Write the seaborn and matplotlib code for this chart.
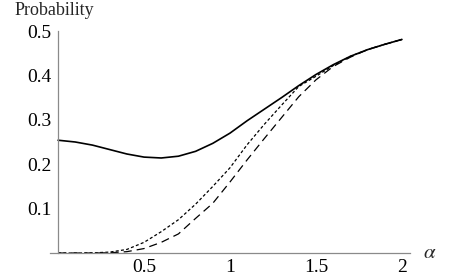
import matplotlib
matplotlib.use("Agg")
import matplotlib.pyplot as plt
import seaborn as sns
import numpy as np
import pandas as pd
from matplotlib.ticker import MultipleLocator

# values
alpha = [0.0, 0.1, 0.2, 0.3, 0.4, 0.5, 0.6, 0.7, 0.8, 0.9, 1.0,
         1.1, 1.2, 1.3, 1.4, 1.5, 1.6, 1.7, 1.8, 1.9, 2.0]
p_solid = [0.254, 0.250, 0.243, 0.233, 0.223, 0.216, 0.214, 0.218, 0.229, 0.247, 0.270,
           0.298, 0.324, 0.350, 0.377, 0.402, 0.424, 0.443, 0.458, 0.470, 0.481]
p_short = [0.0, 0.0, 0.0003, 0.002, 0.008, 0.024, 0.048, 0.075, 0.110, 0.150, 0.192,
           0.244, 0.290, 0.333, 0.375, 0.398, 0.422, 0.443, 0.458, 0.470, 0.481]
p_long = [0.0, 0.0, 0.0, 0.0005, 0.003, 0.010, 0.024, 0.043, 0.078, 0.112, 0.160,
          0.210, 0.258, 0.305, 0.352, 0.390, 0.420, 0.441, 0.458, 0.470, 0.481]

x_ticks = [0.5, 1, 1.5, 2]
x_labels = ["0.5", "1", "1.5", "2"]
y_ticks = [0.1, 0.2, 0.3, 0.4, 0.5]
y_labels = ["0.1", "0.2", "0.3", "0.4", "0.5"]

df = pd.DataFrame({"alpha": alpha, "solid": p_solid, "short": p_short, "long": p_long})

sns.set_style("white")
plt.rcParams["font.family"] = ["Liberation Serif", "DejaVu Serif"]
plt.rcParams["mathtext.fontset"] = "stix"

fig = plt.figure(figsize=(4.5, 2.79), dpi=100)
ax = fig.add_axes([50 / 450, 1 - 253 / 279, 360 / 450, 222 / 279])

sns.lineplot(data=df, x="alpha", y="solid", color="black", lw=1.2, ax=ax)
sns.lineplot(data=df, x="alpha", y="short", color="black", lw=0.9, ax=ax,
             dashes=False).lines[-1].set_dashes([2.4, 1.8])
sns.lineplot(data=df, x="alpha", y="long", color="black", lw=0.9, ax=ax,
             dashes=False).lines[-1].set_dashes([6.5, 4])

ax.set_xlim(-0.047, 2.047)
ax.set_ylim(0, 0.5)

axis_col = "#8a8a8a"
for s in ["top", "right"]:
    ax.spines[s].set_visible(False)
ax.spines["left"].set_position(("data", 0))
ax.spines["left"].set_bounds(0, 0.5)
for s in ["left", "bottom"]:
    ax.spines[s].set_color(axis_col)
    ax.spines[s].set_linewidth(0.9)

ax.set_xticks(x_ticks)
ax.set_xticklabels(x_labels)
ax.set_yticks(y_ticks)
ax.set_yticklabels(y_labels)
ax.xaxis.set_minor_locator(MultipleLocator(0.1))
ax.yaxis.set_minor_locator(MultipleLocator(0.02))
ax.tick_params(which="major", direction="in", length=3.5, width=0.7, color=axis_col,
               labelsize=14, labelcolor="black")
ax.tick_params(which="minor", direction="in", length=2, width=0.6, color=axis_col)
ax.tick_params(axis="x", which="major", pad=4)
ax.tick_params(axis="y", which="major", pad=5)

ax.set_xlabel("")
ax.set_ylabel("")
fig.text(15 / 450, 1 - 15 / 279, "Probability", fontsize=13, ha="left", va="baseline")
fig.text(430 / 450, 1 - 253 / 279, r"$\alpha$", fontsize=15, ha="center", va="center")

fig.savefig("out.png", dpi=100)
